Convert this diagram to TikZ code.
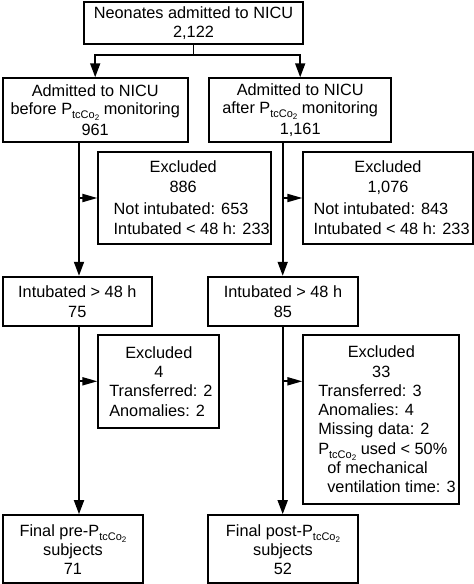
\documentclass[tikz,border=0pt]{standalone}
\usepackage{fontspec}
\setmainfont{Liberation Sans}
\usetikzlibrary{arrows.meta}
\newcommand\ptco{P\raisebox{-4pt}{\fontsize{11}{11}\selectfont tcCo\raisebox{-2pt}{\fontsize{8}{8}\selectfont 2}}}
\begin{document}
\begin{tikzpicture}[x=1pt,y=-1pt,
  box/.style={draw, line width=1.8pt, inner sep=0pt, align=center,
    font=\fontsize{16.3}{19.3}\selectfont},
  lbox/.style={box, align=left},
  ln/.style={line width=1.8pt},
  varr/.style={ln, -{Triangle[length=14pt,width=10pt]}},
  harr/.style={ln, -{Triangle[length=15pt,width=8pt]}}]
\useasboundingbox (0,0) rectangle (474,584);
\fill[white] (0,0) rectangle (474,584);

\node[box, minimum width=219pt, minimum height=42pt] (top) at (193.5,23)
  {Neonates admitted to NICU\\2,122};
\node[box, minimum width=185pt, minimum height=63.7pt, font=\fontsize{16.3}{18.5}\selectfont] (before) at (95.2,110)
  {Admitted to NICU\\before \ptco{} monitoring\\[2pt]961};
\node[box, minimum width=181.7pt, minimum height=63.7pt, font=\fontsize{16.3}{18.5}\selectfont] (after) at (300.2,110)
  {Admitted to NICU\\after \ptco{} monitoring\\[2pt]1,161};

\node[lbox, minimum width=172.7pt, minimum height=92.6pt, font=\fontsize{16.3}{20}\selectfont] (ex1) at (184.7,198)
  {\makebox[167pt]{Excluded}\\\makebox[167pt]{886}\\[2pt]\hspace*{14pt}Not intubated: 653\\\hspace*{14pt}Intubated < 48 h: 233};
\node[lbox, minimum width=169.4pt, minimum height=92.6pt, font=\fontsize{16.3}{20}\selectfont] (ex2) at (388,198)
  {\makebox[166.8pt]{Excluded}\\\makebox[166.8pt]{1,076}\\[2pt]\hspace*{9pt}Not intubated: 843\\\hspace*{9pt}Intubated < 48 h: 233};

\node[box, minimum width=149.3pt, minimum height=49.3pt, font=\fontsize{16.3}{20}\selectfont] (int1) at (77.3,301.3)
  {Intubated > 48 h\\75};
\node[box, minimum width=149.4pt, minimum height=49.3pt, font=\fontsize{16.3}{20}\selectfont] (int2) at (283,301.3)
  {Intubated > 48 h\\85};

\node[lbox, minimum width=121pt, minimum height=92.7pt] (ex3) at (158.8,381.3)
  {\makebox[121pt]{Excluded}\\\makebox[121pt]{4}\\\hspace*{11pt}Transferred: 2\\\hspace*{11pt}Anomalies: 2};
\node[lbox, minimum width=156pt, minimum height=169pt] (ex4) at (381.3,419.5)
  {\makebox[151.4pt]{Excluded}\\\makebox[151.4pt]{33}\\\hspace*{12.7pt}Transferred: 3\\\hspace*{12.7pt}Anomalies: 4\\\hspace*{12.7pt}Missing data: 2\\\hspace*{12.7pt}\ptco{} used < 50\%\\\hspace*{21.7pt}of mechanical\\\hspace*{21.7pt}ventilation time: 3};

\node[box, minimum width=140.6pt, minimum height=68.3pt, font=\fontsize{16.3}{19}\selectfont] (fin1) at (73,549.2)
  {Final pre-\ptco\\subjects\\71};
\node[box, minimum width=149.4pt, minimum height=68.3pt, font=\fontsize{16.3}{19}\selectfont] (fin2) at (283,549.2)
  {Final post-\ptco\\subjects\\52};

\coordinate (lx) at (79,0);
\coordinate (rx) at (282.7,0);

\draw[varr] (top.south) -- ++(0,10.3) -| (before.north);
\draw[varr] (top.south) -- ++(0,10.3) -| (after.north);

\draw[varr] (lx |- before.south) -- (lx |- int1.north);
\draw[varr] (rx |- after.south) -- (rx |- int2.north);
\draw[harr] (lx |- ex1.west) -- (ex1.west);
\draw[harr] (rx |- ex2.west) -- (ex2.west);

\draw[varr] (lx |- int1.south) -- (lx |- fin1.north);
\draw[varr] (rx |- int2.south) -- (rx |- fin2.north);
\draw[harr] (lx |- ex3.west) -- (ex3.west);
\draw[harr] (rx |- ex3.west) -- (ex4.west |- ex3.west);
\end{tikzpicture}
\end{document}
